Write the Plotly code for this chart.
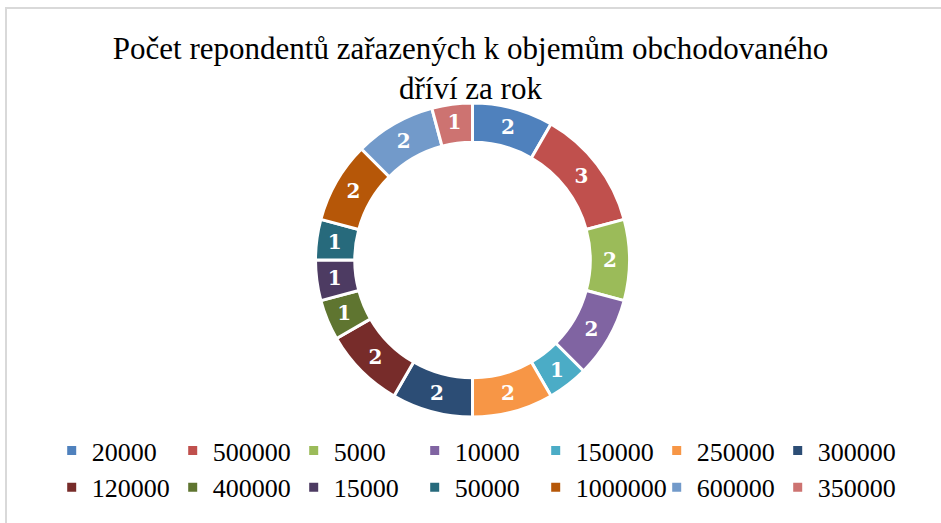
import plotly.graph_objects as go

W, H = 941, 523

labels = ["20000", "500000", "5000", "10000", "150000", "250000", "300000",
          "120000", "400000", "15000", "50000", "1000000", "600000", "350000"]
counts = [2, 3, 2, 2, 1, 2, 2, 2, 1, 1, 1, 2, 2, 1]
colors = ["#4F81BD", "#C0504D", "#9BBB59", "#8064A2", "#4BACC6", "#F79646", "#2C4D75",
          "#772C2A", "#5F7530", "#4D3B62", "#276A7C", "#B65708", "#729ACA", "#CD7371"]

title_text = "Počet repondentů zařazených k objemům obchodovaného<br>dříví za rok"

serif = "Liberation Serif, Times New Roman, serif"

# donut centre / radius in pixels
cx, cy, r = 472.5, 260, 157

fig = go.Figure(go.Pie(
    labels=labels,
    values=counts,
    hole=0.75,
    sort=False,
    direction="clockwise",
    rotation=0,
    marker=dict(colors=colors, line=dict(color="white", width=3)),
    textinfo="value",
    textposition="inside",
    insidetextorientation="horizontal",
    textfont=dict(family="DejaVu Serif", size=20, color="white", weight="bold"),
    hoverinfo="label+value+percent",
    domain=dict(x=[(cx - r) / W, (cx + r) / W],
                y=[1 - (cy + r) / H, 1 - (cy - r) / H]),
))

fig.update_layout(
    width=W, height=H,
    margin=dict(l=0, r=0, t=0, b=0, autoexpand=False),
    paper_bgcolor="white",
    font=dict(family=serif, color="black"),
    title=dict(
        text=title_text,
        x=0.5, xanchor="center",
        y=1 - 59 / H, yanchor="top",
        yref="container",
        font=dict(family=serif, size=31, color="black"),
    ),
    legend=dict(
        orientation="h",
        xref="container", yref="container",
        x=0.505, xanchor="center",
        y=1 - 427 / H, yanchor="top",
        font=dict(family=serif, size=26, color="black"),
        entrywidth=76,
        entrywidthmode="pixels",
        itemwidth=30,
        tracegroupgap=0,
    ),
    shapes=[dict(
        type="rect", xref="paper", yref="paper",
        x0=6 / W, x1=1.05, y0=-0.05, y1=1 - 8 / H,
        line=dict(color="#D9D9D9", width=2),
    )],
)

# the page body has a default 8px margin; drop it so the figure sits at 0,0
fig.write_html("out.html", config={"displayModeBar": False},
               post_script="document.body.style.margin='0';")
